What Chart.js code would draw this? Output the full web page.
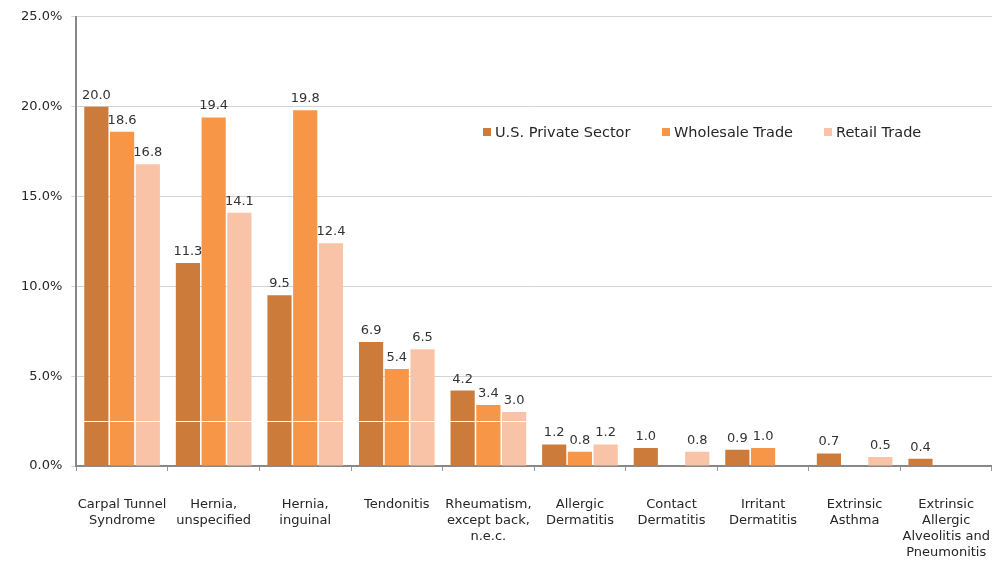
<!DOCTYPE html>
<html lang="en">
<head>
    <meta charset="UTF-8">
    <title>Injury and Illness Cases by Nature</title>
    <script src="https://cdn.jsdelivr.net/npm/chart.js@4.4.1/dist/chart.umd.min.js"></script>
    <style>
        body {
            margin: 0;
            background-color: #ffffff;
        }
        .chart-container {
            position: relative;
            width: 992px;
            height: 562px;
        }
    </style>
</head>
<body>
    <div class="chart-container">
        <canvas id="natureChart"></canvas>
    </div>

    <script>
        // Categories (multi-line labels)
        const categories = [
            ['Carpal Tunnel', 'Syndrome'],
            ['Hernia,', 'unspecified'],
            ['Hernia,', 'inguinal'],
            ['Tendonitis'],
            ['Rheumatism,', 'except back,', 'n.e.c.'],
            ['Allergic', 'Dermatitis'],
            ['Contact', 'Dermatitis'],
            ['Irritant', 'Dermatitis'],
            ['Extrinsic', 'Asthma'],
            ['Extrinsic', 'Allergic', 'Alveolitis and', 'Pneumonitis']
        ];

        const seriesNames = ['U.S. Private Sector', 'Wholesale Trade', 'Retail Trade'];

        // Percent of cases; null = no bar shown
        const privateSector = [20.0, 11.3, 9.5, 6.9, 4.2, 1.2, 1.0, 0.9, 0.7, 0.4];
        const wholesaleTrade = [18.6, 19.4, 19.8, 5.4, 3.4, 0.8, null, 1.0, null, null];
        const retailTrade = [16.8, 14.1, 12.4, 6.5, 3.0, 1.2, 0.8, null, 0.5, null];

        const yTicks = [0, 5, 10, 15, 20, 25];

        const colors = ['#CD7B3B', '#F79646', '#F9C3A8'];
        const fontFamily = '"DejaVu Sans", Verdana, sans-serif';

        // Value labels above each bar
        const valueLabels = {
            id: 'valueLabels',
            afterDatasetsDraw(chart) {
                const ctx = chart.ctx;
                ctx.save();
                ctx.font = '13px ' + fontFamily;
                ctx.fillStyle = '#333333';
                ctx.textAlign = 'center';
                ctx.textBaseline = 'alphabetic';
                chart.data.datasets.forEach((ds, i) => {
                    const meta = chart.getDatasetMeta(i);
                    meta.data.forEach((bar, j) => {
                        const v = ds.data[j];
                        if (v === null || v === undefined) return;
                        ctx.fillText(v.toFixed(1), bar.x, bar.y - 8);
                    });
                });
                ctx.restore();
            }
        };

        // Thin white line across the bars at 2.5%
        const whiteLine = {
            id: 'whiteLine',
            afterDatasetsDraw(chart) {
                const ctx = chart.ctx;
                const area = chart.chartArea;
                const y = Math.round(chart.scales.y.getPixelForValue(2.5)) + 0.5;
                ctx.save();
                ctx.strokeStyle = '#ffffff';
                ctx.lineWidth = 1;
                ctx.beginPath();
                ctx.moveTo(area.left + 2, y);
                ctx.lineTo(area.right, y);
                ctx.stroke();
                ctx.restore();
            }
        };

        // Legend drawn inside the plot area
        const innerLegend = {
            id: 'innerLegend',
            afterDraw(chart) {
                const ctx = chart.ctx;
                const items = [
                    { box: 483, text: 495 },
                    { box: 662, text: 674 },
                    { box: 824, text: 836 }
                ];
                ctx.save();
                ctx.font = '14.5px ' + fontFamily;
                ctx.textBaseline = 'middle';
                ctx.textAlign = 'left';
                chart.data.datasets.forEach((ds, i) => {
                    ctx.fillStyle = ds.backgroundColor;
                    ctx.fillRect(items[i].box, 128, 8, 8);
                    ctx.fillStyle = '#262626';
                    ctx.fillText(ds.label, items[i].text, 133);
                });
                ctx.restore();
            }
        };

        const ctx = document.getElementById('natureChart').getContext('2d');

        new Chart(ctx, {
            type: 'bar',
            data: {
                labels: categories,
                datasets: [
                    { label: seriesNames[0], data: privateSector, backgroundColor: colors[0] },
                    { label: seriesNames[1], data: wholesaleTrade, backgroundColor: colors[1] },
                    { label: seriesNames[2], data: retailTrade, backgroundColor: colors[2] }
                ]
            },
            options: {
                responsive: true,
                maintainAspectRatio: false,
                animation: false,
                categoryPercentage: 0.843,
                barPercentage: 0.94,
                layout: {
                    padding: { left: 12, top: 7, right: 0, bottom: 0 }
                },
                plugins: {
                    legend: { display: false },
                    tooltip: { enabled: false }
                },
                scales: {
                    x: {
                        afterFit(scale) {
                            // labels sit well below the axis; keep the plot full width
                            scale.paddingLeft = 0;
                            scale.paddingRight = 0;
                            scale.height = 96;
                        },
                        grid: {
                            drawOnChartArea: false,
                            drawTicks: true,
                            tickLength: 5,
                            color: '#999999'
                        },
                        border: { color: '#888888', width: 2 },
                        ticks: {
                            maxRotation: 0,
                            autoSkip: false,
                            padding: 26,
                            color: '#262626',
                            font: { family: fontFamily, size: 13, lineHeight: 1.23 }
                        }
                    },
                    y: {
                        min: 0,
                        max: 25,
                        afterBuildTicks(scale) {
                            scale.ticks = yTicks.map(v => ({ value: v }));
                        },
                        grid: {
                            color: '#D4D4D4',
                            tickLength: 5
                        },
                        border: { color: '#888888', width: 2 },
                        ticks: {
                            padding: 9,
                            color: '#262626',
                            font: { family: fontFamily, size: 13 },
                            callback: function(value) {
                                return value.toFixed(1) + '%';
                            }
                        }
                    }
                }
            },
            plugins: [valueLabels, whiteLine, innerLegend]
        });
    </script>
</body>
</html>
